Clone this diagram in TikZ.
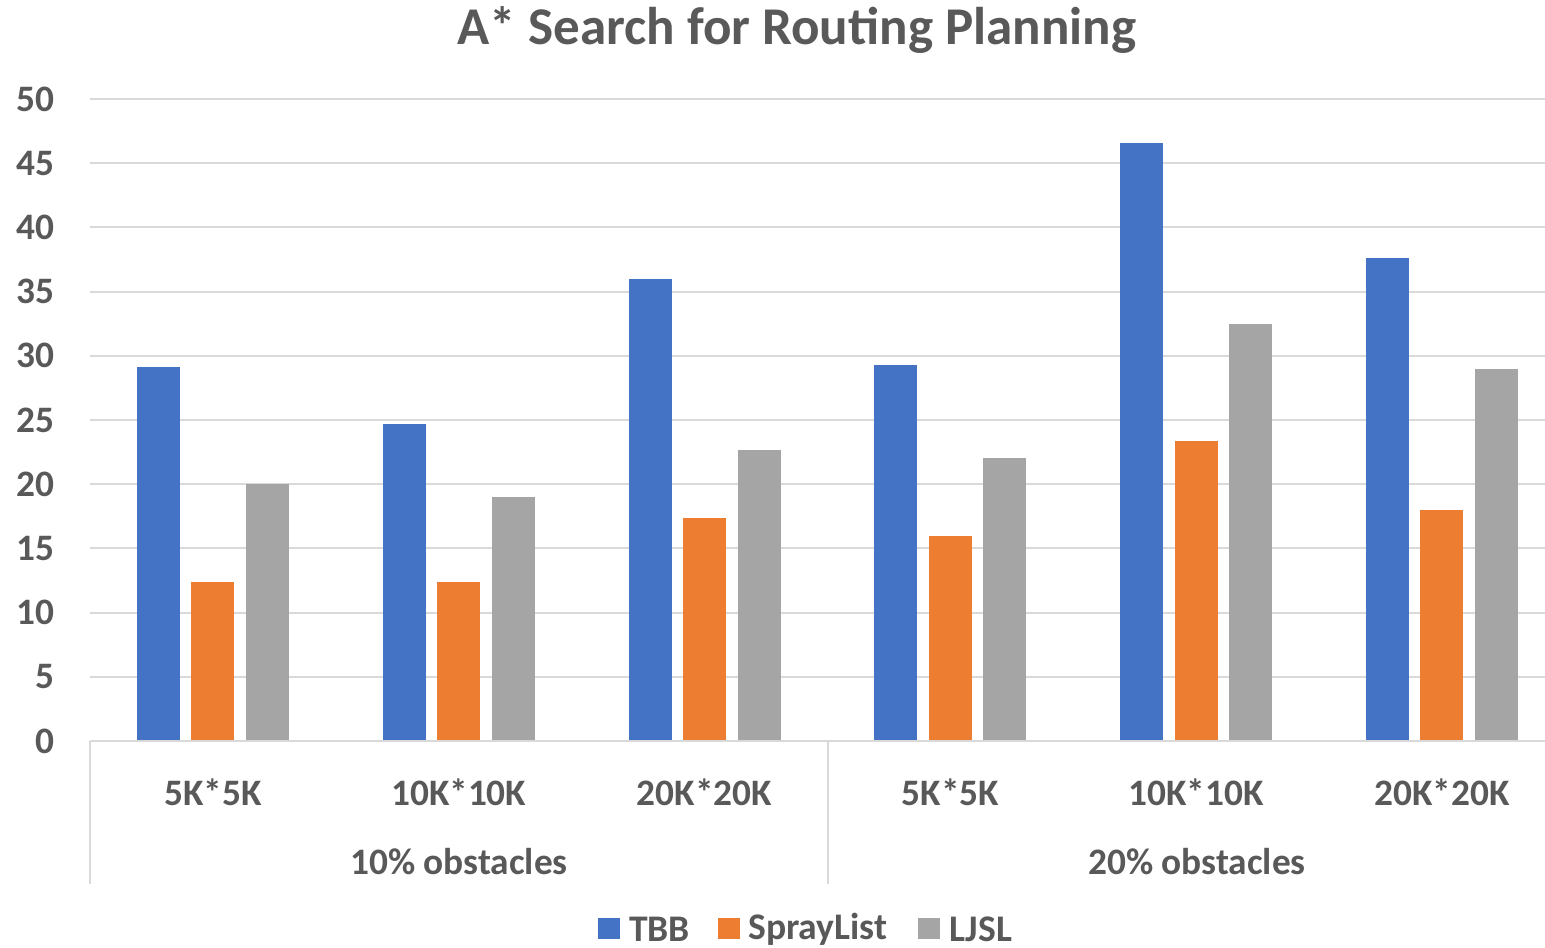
\documentclass[tikz,border=0pt]{standalone}
\usepackage{fontspec}
\setmainfont{Carlito}
\definecolor{tbbblue}{HTML}{4472C4}
\definecolor{sprayorange}{HTML}{ED7D31}
\definecolor{ljslgray}{HTML}{A5A5A5}
\definecolor{textgray}{HTML}{595959}
\definecolor{gridgray}{HTML}{D9D9D9}
\tikzset{
  gridline/.style={draw=gridgray, line width=1.5pt},
  ticklabel/.style={anchor=east, text=textgray, font=\fontsize{28}{30}\selectfont\bfseries, inner sep=0pt},
  catlabel/.style={text=textgray, font=\fontsize{28}{30}\selectfont\bfseries, inner sep=0pt},
  legendtext/.style={anchor=west, text=textgray, font=\fontsize{28.2}{30}\selectfont\bfseries, inner sep=0pt},
  charttitle/.style={text=textgray, font=\fontsize{39.8}{44}\selectfont\bfseries, inner sep=0pt},
}
\begin{document}
% units are pixels: bar width 43, bar pitch 54.5, group width 245.8, 12.84 per unit of value
\begin{tikzpicture}[x=0.75pt,y=-0.75pt]
\useasboundingbox (0,0) rectangle (1545,948);
\fill[white] (0,0) rectangle (1545,948);

% title
\node[charttitle] (title) at (797,30) {A* Search for Routing Planning};

% horizontal gridlines and y tick labels
\foreach \v in {5,10,...,50} {
  \draw[gridline] (90,{741-\v*12.84}) -- (1545,{741-\v*12.84});
}
\foreach \v in {0,5,...,50} {
  \node[ticklabel] (tick\v) at (55,{741-\v*12.84}) {\v};
}

% bars
\foreach \g/\a/\b/\c in {0/29.13/12.38/20.0, 1/24.69/12.38/19.0, 2/35.98/17.37/22.66,
                         3/29.28/15.97/22.04, 4/46.57/23.36/32.48, 5/37.62/17.99/28.97} {
  \pgfmathsetmacro{\cx}{90+245.8*(\g+0.5)}
  \fill[tbbblue]      ({\cx-54.5-21.5},741) rectangle ({\cx-54.5+21.5},{741-\a*12.84});
  \fill[sprayorange]  ({\cx-21.5},741) rectangle ({\cx+21.5},{741-\b*12.84});
  \fill[ljslgray]     ({\cx+54.5-21.5},741) rectangle ({\cx+54.5+21.5},{741-\c*12.84});
}

% category axis: baseline and group separators
\draw[gridline] (90,741) -- (1545,741);
\draw[gridline] (90,741) -- (90,884);
\draw[gridline] (828,741) -- (828,884);

% category labels
\foreach \g/\t in {0/5K*5K, 1/10K*10K, 2/20K*20K, 3/5K*5K, 4/10K*10K, 5/20K*20K} {
  \node[catlabel] (cat\g) at ({90+245.8*(\g+0.5)},792) {\t};
}
\node[catlabel] (grpA) at (459,862) {10\% obstacles};
\node[catlabel] (grpB) at (1197,862) {20\% obstacles};

% legend
\fill[tbbblue]     (598,918) rectangle (620,939);
\node[legendtext] (legTBB) at (629,929) {TBB};
\fill[sprayorange] (718,918) rectangle (740,939);
\node[legendtext] (legSpray) at (748,929) {SprayList};
\fill[ljslgray]    (918,918) rectangle (940,939);
\node[legendtext] (legLJSL) at (949,929) {LJSL};
\end{tikzpicture}
\end{document}
